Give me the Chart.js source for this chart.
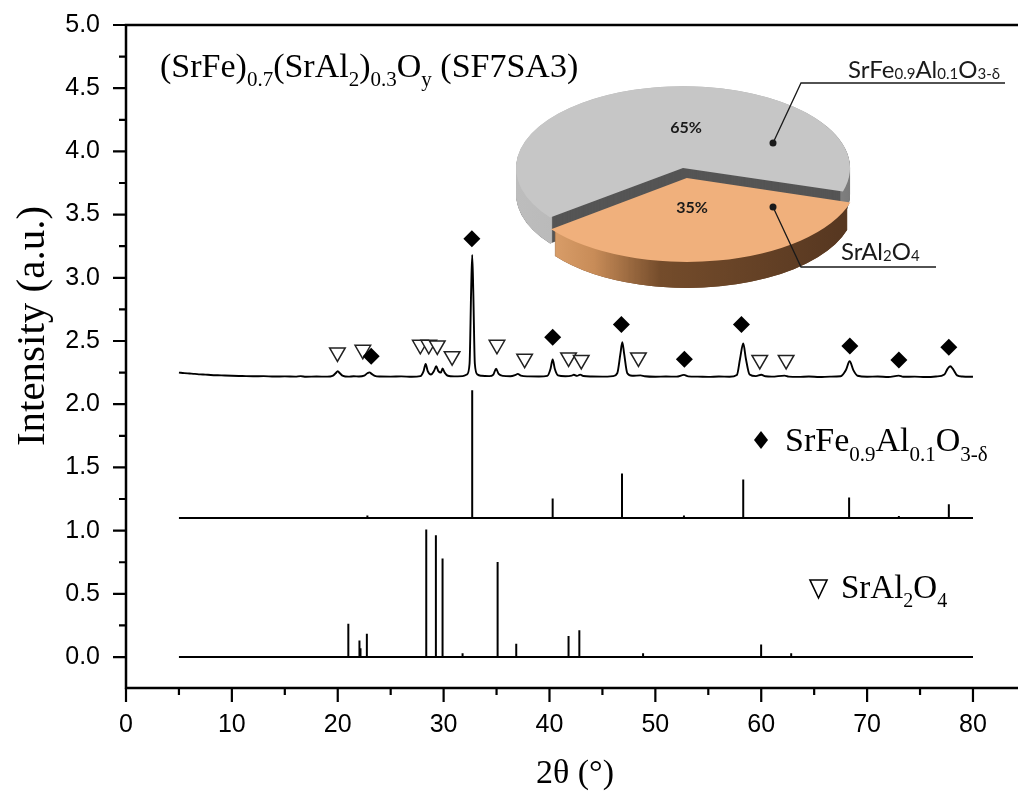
<!DOCTYPE html>
<html><head><meta charset="utf-8">
<script src="https://cdn.jsdelivr.net/npm/chart.js@4.4.0/dist/chart.umd.min.js"></script>
<style>
html,body{margin:0;padding:0;background:#fff;overflow:hidden;}
#wrap{position:relative;width:1018px;height:796px;overflow:hidden;}
#main{position:absolute;left:0;top:0;}
#pie{position:absolute;left:0;top:-41px;}
</style></head><body>
<div id="wrap"><canvas id="main" width="1029" height="796"></canvas><canvas id="pie" width="1018" height="837"></canvas></div>
<script>
// ---------- data ----------
const xrdX = [5.0,5.5,6.0,6.5,7.0,7.5,8.0,9.0,10.0,11.0,12.0,13.0,14.0,15.0,16.0,16.5,17.0,18.0,19.0,19.5,19.8,20.0,20.2,20.5,21.0,21.5,22.0,22.5,22.8,23.0,23.2,23.5,24.0,25.0,26.0,27.0,27.8,28.1,28.3,28.5,28.8,29.1,29.3,29.5,29.75,29.9,30.1,30.4,31.0,31.8,32.2,32.45,32.6,32.7,32.8,32.95,33.2,33.6,34.3,34.7,34.95,35.2,35.6,36.3,36.8,37.0,37.3,38.0,39.0,39.8,40.1,40.3,40.5,40.8,41.5,42.1,42.3,42.6,42.9,43.2,44.0,45.0,46.0,46.4,46.7,46.88,47.05,47.35,47.8,48.6,49.0,50.0,51.0,52.0,52.7,53.1,54.0,55.0,56.0,57.0,57.7,58.0,58.3,58.55,58.9,59.5,60.0,60.4,61.0,62.2,62.6,63.5,64.5,65.5,66.5,67.5,68.0,68.35,68.7,69.1,70.0,71.0,72.0,73.0,73.4,74.5,75.5,76.5,77.3,77.6,77.85,78.1,78.5,79.0,80.0];
const xrdY = [2.250,2.246,2.243,2.240,2.236,2.234,2.231,2.228,2.225,2.223,2.221,2.222,2.219,2.220,2.218,2.222,2.217,2.219,2.218,2.224,2.245,2.262,2.245,2.224,2.218,2.221,2.219,2.226,2.245,2.252,2.240,2.224,2.219,2.218,2.220,2.217,2.222,2.260,2.318,2.262,2.235,2.265,2.300,2.262,2.250,2.282,2.250,2.225,2.220,2.222,2.235,2.320,2.900,3.180,2.900,2.320,2.235,2.225,2.222,2.235,2.280,2.240,2.224,2.221,2.232,2.240,2.226,2.220,2.219,2.224,2.280,2.355,2.280,2.228,2.221,2.226,2.233,2.224,2.234,2.223,2.219,2.218,2.222,2.245,2.400,2.490,2.400,2.245,2.225,2.228,2.221,2.217,2.219,2.218,2.232,2.220,2.218,2.216,2.219,2.217,2.232,2.360,2.480,2.360,2.235,2.222,2.233,2.221,2.218,2.226,2.218,2.216,2.219,2.215,2.218,2.221,2.270,2.340,2.270,2.225,2.217,2.219,2.215,2.226,2.217,2.218,2.215,2.219,2.235,2.280,2.300,2.280,2.228,2.219,2.217];

// reference pattern SrFe0.9Al0.1O3-δ (sticks on baseline 1.1)
const feBase = 1.1, feStart = 5, feEnd = 80;
const feStickX = [22.8,32.7,40.3,46.85,52.7,58.3,68.3,73.0,77.72];
const feStickH = [1.12,2.11,1.255,1.452,1.12,1.405,1.262,1.115,1.209];

// reference pattern SrAl2O4 (sticks on baseline 0)
const alBase = 0, alStart = 5, alEnd = 80;
const alStickX = [21.0,22.05,22.15,22.75,28.36,29.27,29.9,31.79,35.1,36.86,41.8,42.82,48.84,59.99,62.83];
const alStickH = [0.264,0.13,0.07,0.185,1.008,0.963,0.779,0.03,0.752,0.106,0.167,0.211,0.03,0.10,0.03];

// phase markers on the measured pattern
const diamondX = [23.16,32.67,40.3,46.79,52.74,58.13,68.37,73.0,77.72];
const diamondY = [2.38,3.31,2.53,2.63,2.355,2.63,2.46,2.35,2.45];
const triangleX = [19.97,22.37,27.8,28.6,29.4,30.8,35.04,37.65,41.8,43.0,48.4,59.86,62.35];
const triangleY = [2.41,2.43,2.47,2.47,2.465,2.38,2.47,2.36,2.37,2.35,2.37,2.35,2.35];

// phase fractions (pie)
const phaseLabels = ['SrAl2O4','SrFe0.9Al0.1O3-δ'];
const phaseValues = [35,65];

// axis ticks
const xMin = 0, xMax = 84.3, xStep = 5, xLabelStep = 10;
const yMin = -0.245, yMax = 5.0, yStep = 0.25, yLabelStep = 0.5;

// ---------- helpers ----------
const pts = (xs, ys) => xs.map((x, i) => ({x, y: ys[i]}));
function sticks(xs, hs, base, x0, x1) {
  const out = [{x: x0, y: base}];
  xs.forEach((x, i) => { out.push({x, y: base}, {x, y: hs[i]}, {x, y: base}); });
  out.push({x: x1, y: base});
  return out;
}
function richText(ctx, x, y, parts, mainFont, subFont, subDy) {
  let cx = x;
  parts.forEach(([t, sub]) => {
    ctx.font = sub ? subFont : mainFont;
    ctx.fillText(t, cx, y + (sub ? subDy : 0));
    cx += ctx.measureText(t).width;
  });
  return cx;
}
const SERIF = '"Liberation Serif", "Times New Roman", serif';
const SANS = '"Liberation Sans", Arial, sans-serif';

// ---------- main chart ----------
const framePlugin = {
  id: 'frame',
  afterDraw(chart) {
    const {ctx, chartArea: a, scales: {x, y}} = chart;
    const W = chart.width;
    ctx.save();
    ctx.strokeStyle = '#000';
    ctx.lineWidth = 2.5;
    ctx.beginPath();
    ctx.moveTo(W, a.top); ctx.lineTo(a.left, a.top);
    ctx.lineTo(a.left, a.bottom); ctx.lineTo(W, a.bottom);
    ctx.stroke();
    ctx.lineWidth = 2.2;
    ctx.beginPath();
    x.ticks.forEach(t => {
      const px = x.getPixelForValue(t.value);
      const major = Math.abs(t.value / xLabelStep - Math.round(t.value / xLabelStep)) < 1e-6;
      ctx.moveTo(px, a.bottom); ctx.lineTo(px, a.bottom + (major ? 14 : 7));
    });
    y.ticks.forEach(t => {
      const py = y.getPixelForValue(t.value);
      const major = Math.abs(t.value / yLabelStep - Math.round(t.value / yLabelStep)) < 1e-6;
      ctx.moveTo(a.left, py); ctx.lineTo(a.left - (major ? 13 : 7), py);
    });
    ctx.stroke();

    // texts
    ctx.fillStyle = '#000';
    ctx.textBaseline = 'alphabetic';
    ctx.textAlign = 'left';
    richText(ctx, 160, 77, [['(SrFe)',0],['0.7',1],['(SrAl',0],['2',1],[')',0],['0.3',1],['O',0],['y',1],[' (SF7SA3)',0]],
      '34px ' + SERIF, '21px ' + SERIF, 9);

    // legend 1 : diamond + SrFe0.9Al0.1O3-δ
    ctx.beginPath();
    ctx.moveTo(761, 431); ctx.lineTo(768, 440); ctx.lineTo(761, 449); ctx.lineTo(754, 440); ctx.closePath();
    ctx.fill();
    richText(ctx, 785, 451, [['SrFe',0],['0.9',1],['Al',0],['0.1',1],['O',0],['3-δ',1]],
      '34px ' + SERIF, '21px ' + SERIF, 10);
    // legend 2 : open nabla + SrAl2O4
    ctx.lineWidth = 1.6;
    ctx.beginPath();
    ctx.moveTo(810, 580); ctx.lineTo(827, 580); ctx.lineTo(818.5, 598); ctx.closePath();
    ctx.stroke();
    richText(ctx, 841, 598, [['SrAl',0],['2',1],['O',0],['4',1]],
      '33px ' + SERIF, '20px ' + SERIF, 9);

    // axis titles
    ctx.textAlign = 'center';
    ctx.font = '34px ' + SERIF;
    ctx.fillText('2θ (°)', 575, 783);
    ctx.save();
    ctx.translate(44, 326);
    ctx.rotate(-Math.PI / 2);
    ctx.font = '41px ' + SERIF;
    ctx.fillText('Intensity (a.u.)', 0, 0);
    ctx.restore();
    ctx.restore();
  }
};

new Chart(document.getElementById('main').getContext('2d'), {
  type: 'scatter',
  data: {
    datasets: [
      {data: pts(xrdX, xrdY), showLine: true, borderColor: '#000', borderWidth: 1.9, pointRadius: 0, cubicInterpolationMode: 'monotone'},
      {data: sticks(feStickX, feStickH, feBase, feStart, feEnd), showLine: true, borderColor: '#000', borderWidth: 2, pointRadius: 0, tension: 0},
      {data: sticks(alStickX, alStickH, alBase, alStart, alEnd), showLine: true, borderColor: '#000', borderWidth: 2, pointRadius: 0, tension: 0},
      {data: pts(diamondX, diamondY), pointStyle: 'rectRot', pointRadius: 8.5, backgroundColor: '#000', borderColor: '#000', borderWidth: 0},
      {data: pts(triangleX, triangleY), pointStyle: 'triangle', rotation: 180, pointRadius: 9, backgroundColor: '#fff', borderColor: '#222', borderWidth: 1.5}
    ]
  },
  options: {
    responsive: false, animation: false, devicePixelRatio: 1, events: [],
    layout: {padding: {top: 25, right: 0, left: 0, bottom: 0}},
    plugins: {legend: {display: false}, tooltip: {enabled: false}},
    scales: {
      x: {
        type: 'linear', min: xMin, max: xMax,
        afterFit(s) { s.height = 108; },
        grid: {display: false, drawTicks: false}, border: {display: false},
        ticks: {stepSize: xStep, includeBounds: false, autoSkip: false, maxRotation: 0, padding: 22, color: '#000',
          font: {family: SANS, size: 25},
          callback: v => (Math.abs(v / xLabelStep - Math.round(v / xLabelStep)) < 1e-6 ? String(Math.round(v)) : '')}
      },
      y: {
        type: 'linear', min: yMin, max: yMax,
        afterFit(s) { s.width = 126; s.paddingTop = 0; s.paddingBottom = 0; },
        grid: {display: false, drawTicks: false}, border: {display: false},
        ticks: {stepSize: yStep, includeBounds: false, autoSkip: false, padding: 26, color: '#000',
          font: {family: SANS, size: 25},
          callback: v => (Math.abs(v / yLabelStep - Math.round(v / yLabelStep)) < 1e-6 ? v.toFixed(1) : '')}
      }
    }
  },
  plugins: [framePlugin]
});

// ---------- inset 3D pie ----------
const K = 0.49, DEPTH = 26, PY = 41; // squash, thickness, canvas offset
const topColors = ['#f0b07c', '#c6c6c6'];
const cutColors = ['#6b4628', '#555555'];
const rimStops = [
  [[0,'#e6ab76'],[0.22,'#c88c58'],[0.42,'#744c2b'],[1,'#553620']],
  [[0,'#bdbdbd'],[0.75,'#aaaaaa'],[1,'#7a7a7a']]
];
const pie3d = {
  id: 'pie3d',
  beforeDatasetDraw() { return false; },
  afterDatasetsDraw(chart) {
    const ctx = chart.ctx;
    const meta = chart.getDatasetMeta(0);
    [1, 0].forEach(i => {
      const arc = meta.data[i];
      const {x, y, startAngle, endAngle, outerRadius: R} = arc.getProps(['x','y','startAngle','endAngle','outerRadius'], true);
      const off = (arc.options.offset || 0) / 4;
      const fix = 1 - Math.sin(Math.min(Math.PI, endAngle - startAngle));
      const sh = off * (1 + fix);
      const mid = (startAngle + endAngle) / 2;
      const dx = Math.cos(mid) * sh, dy = Math.sin(mid) * sh;
      const sq = t => { ctx.translate(0, t); ctx.translate(x, y); ctx.scale(1, K); ctx.translate(-x, -y); ctx.translate(dx, dy); };
      for (let t = DEPTH; t >= 1; t--) {
        ctx.save(); sq(t);
        ctx.beginPath(); ctx.moveTo(x, y); ctx.arc(x, y, R, startAngle, endAngle); ctx.closePath();
        ctx.fillStyle = cutColors[i]; ctx.fill();
        ctx.restore();
      }
      for (let t = DEPTH; t >= 0; t--) {
        ctx.save(); sq(t);
        const g = ctx.createLinearGradient(x - R, 0, x + R, 0);
        rimStops[i].forEach(([p, c]) => g.addColorStop(p, c));
        ctx.beginPath(); ctx.arc(x, y, R - 1.5, startAngle, endAngle);
        ctx.lineWidth = 3; ctx.strokeStyle = g; ctx.stroke();
        ctx.restore();
      }
      ctx.save();
      ctx.translate(x, y); ctx.scale(1, K); ctx.translate(-x, -y);
      arc.draw(ctx);
      ctx.restore();
    });
  },
  afterDraw(chart) {
    const ctx = chart.ctx;
    ctx.save();
    ctx.fillStyle = '#1a1a1a';
    ctx.textAlign = 'center';
    ctx.textBaseline = 'middle';
    ctx.font = 'bold 16px Lato, "Open Sans", sans-serif';
    ctx.fillText(phaseValues[1] + '%', 686, 128 + PY);
    ctx.fillText(phaseValues[0] + '%', 692, 208 + PY);
    // leader lines
    ctx.strokeStyle = '#1a1a1a';
    ctx.lineWidth = 1.3;
    ctx.beginPath();
    ctx.moveTo(773, 143 + PY); ctx.lineTo(801, 83 + PY); ctx.lineTo(1005, 83 + PY);
    ctx.moveTo(773, 207 + PY); ctx.lineTo(801, 267 + PY); ctx.lineTo(936, 267 + PY);
    ctx.stroke();
    ctx.beginPath(); ctx.arc(773, 143 + PY, 3.5, 0, Math.PI * 2); ctx.fill();
    ctx.beginPath(); ctx.arc(773, 207 + PY, 3.5, 0, Math.PI * 2); ctx.fill();
    ctx.textAlign = 'left';
    ctx.textBaseline = 'alphabetic';
    const LF = '24px Lato, "Open Sans", sans-serif', LS = '15px Lato, "Open Sans", sans-serif';
    richText(ctx, 848, 78 + PY, [['SrFe',0],['0.9',1],['Al',0],['0.1',1],['O',0],['3-δ',1]], LF, LS, 1);
    richText(ctx, 841, 260 + PY, [['SrAl',0],['2',1],['O',0],['4',1]], LF, LS, 1);
    ctx.restore();
  }
};

new Chart(document.getElementById('pie').getContext('2d'), {
  type: 'pie',
  data: {
    labels: phaseLabels,
    datasets: [{data: phaseValues, backgroundColor: topColors, borderWidth: 0, offset: [84, 0], hoverOffset: 0}]
  },
  options: {
    responsive: false, animation: false, devicePixelRatio: 1, events: [],
    rotation: 106.7, radius: 167,
    layout: {padding: {left: 474, right: 126, top: 0, bottom: 419}},
    plugins: {legend: {display: false}, tooltip: {enabled: false}}
  },
  plugins: [pie3d]
});
</script>
</body></html>
